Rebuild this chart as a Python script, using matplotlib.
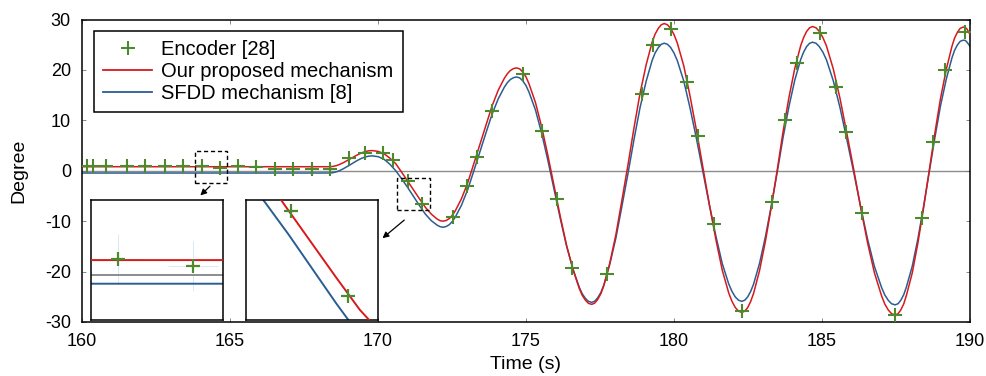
import matplotlib
matplotlib.use("Agg")
import matplotlib.pyplot as plt
from matplotlib.lines import Line2D
from matplotlib.patches import Rectangle

plt.rcParams["font.family"] = ["Liberation Sans", "DejaVu Sans"]
plt.rcParams["axes.unicode_minus"] = False

RED = "#d7191c"
BLUE = "#2a5d93"
GREEN = "#4d8a2e"
GRAY = "#8c8c8c"

# model output time axis (s), shared by both mechanisms
time_s = [
    160.0, 168.35, 168.47, 168.59, 168.71, 168.83, 168.95, 169.08, 169.20, 169.32, 169.44, 169.56, 169.68,
    169.8, 170.0, 170.2, 170.4, 170.6, 170.8, 171.0, 171.2, 171.4, 171.6, 171.8, 172.0, 172.1,
    172.2, 172.30, 172.41, 172.51, 172.61, 172.82, 173.03, 173.23, 173.44, 173.65, 173.85, 174.06, 174.27, 174.37, 174.47, 174.58,
    174.68, 174.79, 174.89, 175.0, 175.10, 175.32, 175.53, 175.74, 175.95, 176.16, 176.37, 176.59, 176.80, 176.90, 177.01, 177.11,
    177.22, 177.32, 177.42, 177.53, 177.63, 177.83, 178.04, 178.24, 178.45, 178.65, 178.85, 179.06, 179.26, 179.36, 179.47, 179.57,
    179.67, 179.78, 179.89, 180.0, 180.11, 180.33, 180.54, 180.76, 180.98, 181.20, 181.42, 181.63, 181.85, 181.96, 182.07, 182.18,
    182.29, 182.39, 182.49, 182.59, 182.69, 182.89, 183.09, 183.29, 183.49, 183.68, 183.88, 184.08, 184.28, 184.38, 184.48, 184.58,
    184.68, 184.80, 184.91, 185.03, 185.15, 185.38, 185.61, 185.84, 186.08, 186.31, 186.54, 186.77, 187.01, 187.12, 187.24, 187.35,
    187.47, 187.57, 187.66, 187.76, 187.85, 188.05, 188.24, 188.43, 188.62, 188.81, 189.00, 189.20, 189.39, 189.48, 189.58, 189.67,
    189.77, 189.84, 189.9, 190.0,
]

proposed_deg = [
    0.8, 0.8, 0.85, 1.01, 1.27, 1.6, 1.99, 2.4, 2.81, 3.2, 3.53, 3.79, 3.95,
    4.0, 3.85, 3.4, 2.5, 1.4, -0.3, -2.05, -3.8, -5.55, -7.25, -8.6, -9.6, -9.9,
    -10.0, -9.87, -9.48, -8.84, -7.96, -5.55, -2.4, 1.27, 5.2, 9.13, 12.8, 15.95, 18.36, 19.24, 19.88, 20.27,
    20.4, 20.2, 19.6, 18.62, 17.26, 13.53, 8.68, 3.02, -3.05, -9.12, -14.78, -19.63, -23.36, -24.72, -25.7, -26.3,
    -26.5, -26.26, -25.55, -24.38, -22.77, -18.34, -12.58, -5.86, 1.35, 8.56, 15.28, 21.04, 25.47, 27.08, 28.25, 28.96,
    29.2, 28.95, 28.22, 27.02, 25.36, 20.81, 14.88, 7.96, 0.55, -6.86, -13.78, -19.71, -24.26, -25.92, -27.12, -27.85,
    -28.1, -27.86, -27.13, -25.94, -24.3, -19.8, -13.93, -7.09, 0.25, 7.59, 14.43, 20.3, 24.8, 26.44, 27.63, 28.36,
    28.6, 28.35, 27.63, 26.42, 24.77, 20.22, 14.3, 7.4, 0.0, -7.4, -14.3, -20.22, -24.77, -26.42, -27.63, -28.35,
    -28.6, -28.35, -27.63, -26.43, -24.77, -20.24, -14.33, -7.44, -0.05, 7.34, 14.23, 20.14, 24.67, 26.33, 27.53, 28.25,
    28.5, 28.4, 28.1, 27.0,
]

sfdd_deg = [
    -0.45, -0.45, -0.39, -0.22, 0.05, 0.4, 0.81, 1.25, 1.69, 2.1, 2.45, 2.72, 2.89,
    2.95, 2.8, 2.3, 1.3, 0.0, -1.6, -3.3, -5.1, -6.9, -8.6, -9.9, -10.8, -11.1,
    -11.2, -11.07, -10.69, -10.07, -9.2, -6.84, -3.75, -0.16, 3.7, 7.56, 11.15, 14.24, 16.6, 17.47, 18.09, 18.47,
    18.6, 18.41, 17.84, 16.9, 15.61, 12.05, 7.43, 2.03, -3.75, -9.53, -14.93, -19.55, -23.11, -24.4, -25.34, -25.91,
    -26.1, -25.88, -25.22, -24.14, -22.66, -18.57, -13.25, -7.05, -0.4, 6.25, 12.45, 17.77, 21.86, 23.34, 24.42, 25.08,
    25.3, 25.08, 24.43, 23.35, 21.87, 17.8, 12.5, 6.33, -0.3, -6.93, -13.1, -18.4, -22.47, -23.95, -25.03, -25.68,
    -25.9, -25.68, -25.02, -23.94, -22.46, -18.37, -13.05, -6.85, -0.2, 6.45, 12.65, 17.97, 22.06, 23.54, 24.62, 25.28,
    25.5, 25.28, 24.61, 23.52, 22.01, 17.87, 12.48, 6.19, -0.55, -7.29, -13.58, -18.97, -23.11, -24.62, -25.71, -26.38,
    -26.6, -26.37, -25.71, -24.6, -23.08, -18.91, -13.48, -7.14, -0.35, 6.44, 12.78, 18.21, 22.38, 23.9, 25.0, 25.67,
    25.9, 25.85, 25.5, 24.7,
]

# encoder samples
enc_t = [
    160.18, 160.36, 160.81, 161.51, 162.14, 162.79, 163.42, 164.04, 164.66, 165.28,
    165.87, 166.52, 167.14, 167.76, 168.38, 169.02, 169.56, 170.16, 170.50, 171.02,
    171.50, 172.54, 173.02, 173.35, 173.84, 174.91, 175.53, 176.04, 176.54, 177.73,
    178.91, 179.28, 179.89, 180.43, 180.82, 181.35, 182.29, 183.30, 183.75, 184.15,
    184.93, 185.46, 185.80, 186.34, 187.47, 188.37, 188.76, 189.16, 189.83,
]
enc_deg = [
    0.85, 0.85, 0.85, 0.85, 0.85, 0.85, 0.85, 0.85, 0.5, 0.85,
    0.8, 0.4, 0.4, 0.4, 0.4, 2.5, 3.6, 3.6, 2.2, -2.1,
    -6.5, -9.1, -3.1, 2.7, 11.8, 19.25, 7.8, -5.6, -19.3, -20.5,
    15.3, 25.0, 28.1, 17.7, 6.8, -10.5, -27.9, -6.1, 10.1, 21.4,
    27.3, 16.6, 7.7, -8.4, -28.6, -9.4, 5.8, 19.9, 27.6,
]

# zoom windows (x0, x1, y0, y1)
zoom1 = (163.82, 164.91, -2.37, 3.98)
zoom2 = (170.64, 171.75, -7.78, -1.50)

W, H = 987, 376
fig = plt.figure(figsize=(W / 100, H / 100), dpi=100)
ax = fig.add_axes([82 / W, 1 - 322 / H, 888 / W, 302.5 / H])

ax.axhline(0, color=GRAY, lw=1.0, zorder=1)
ax.plot(time_s, proposed_deg, color=RED, lw=1.1, zorder=3)
ax.plot(time_s, sfdd_deg, color=BLUE, lw=1.1, zorder=2)
ax.plot(enc_t, enc_deg, ls="none", marker="+", ms=9.5, mew=1.5, color=GREEN, zorder=4)

ax.set_xlim(160, 190)
ax.set_ylim(-30, 30)
ax.set_xticks(range(160, 191, 5))
ax.set_yticks(range(-30, 31, 10))
ax.tick_params(direction="in", length=3, width=0.6, top=True, right=True,
               colors="#777777", labelcolor="black", labelsize=13, pad=8)
for sp in ax.spines.values():
    sp.set_linewidth(1.1)
    sp.set_color("black")
ax.set_xlabel("Time (s)", fontsize=14, labelpad=4)
ax.set_ylabel("Degree", fontsize=14)
ax.yaxis.set_label_coords(-0.061, 0.5)

handles = [
    Line2D([], [], ls="none", marker="+", ms=9.5, mew=1.5, color=GREEN),
    Line2D([], [], color=RED, lw=1.3),
    Line2D([], [], color=BLUE, lw=1.3),
]
labels = ["Encoder [28]", "Our proposed mechanism", "SFDD mechanism [8]"]
leg = ax.legend(handles, labels, loc="upper left", bbox_to_anchor=(0.0135, 0.962),
                borderaxespad=0, fancybox=False, edgecolor="black", framealpha=1,
                fontsize=14.5, handlelength=2.45, handletextpad=0.45,
                labelspacing=0.15, borderpad=0.45)
leg.get_frame().set_linewidth(1.1)

# dashed zoom boxes
for z in (zoom1, zoom2):
    ax.add_patch(Rectangle((z[0], z[2]), z[1] - z[0], z[3] - z[2], fill=False,
                           ls=(0, (3, 2)), lw=1.0, ec="black", zorder=5))

# insets
def inset(rect, z, show_zero, halo):
    ia = fig.add_axes(rect)
    if show_zero:
        ia.axhline(0, color=GRAY, lw=1.4, zorder=1)
    if halo:
        ia.plot(enc_t, enc_deg, ls="none", marker="+", ms=36, mew=0.6,
                color="#d3e4f5", zorder=0)
    ia.plot(time_s, proposed_deg, color=RED, lw=1.4, zorder=3)
    ia.plot(time_s, sfdd_deg, color=BLUE, lw=1.4, zorder=2)
    ia.plot(enc_t, enc_deg, ls="none", marker="+", ms=10, mew=1.6, color=GREEN, zorder=4)
    ia.set_xlim(z[0], z[1])
    ia.set_ylim(z[2], z[3])
    ia.set_xticks([])
    ia.set_yticks([])
    for sp in ia.spines.values():
        sp.set_linewidth(1.1)
    return ia

inset([91 / W, 1 - 320 / H, 132.3 / W, 120 / H], zoom1, True, True)
inset([245.7 / W, 1 - 320 / H, 132 / W, 120 / H], zoom2, False, False)

arrow = dict(arrowstyle="-|>", color="black", lw=0.9, mutation_scale=9)
ax.annotate("", xy=(163.93, -5.27), xytext=(164.39, -2.69), arrowprops=arrow)
ax.annotate("", xy=(170.08, -13.73), xytext=(170.96, -9.43), arrowprops=arrow)

fig.savefig("out.png", dpi=100)
